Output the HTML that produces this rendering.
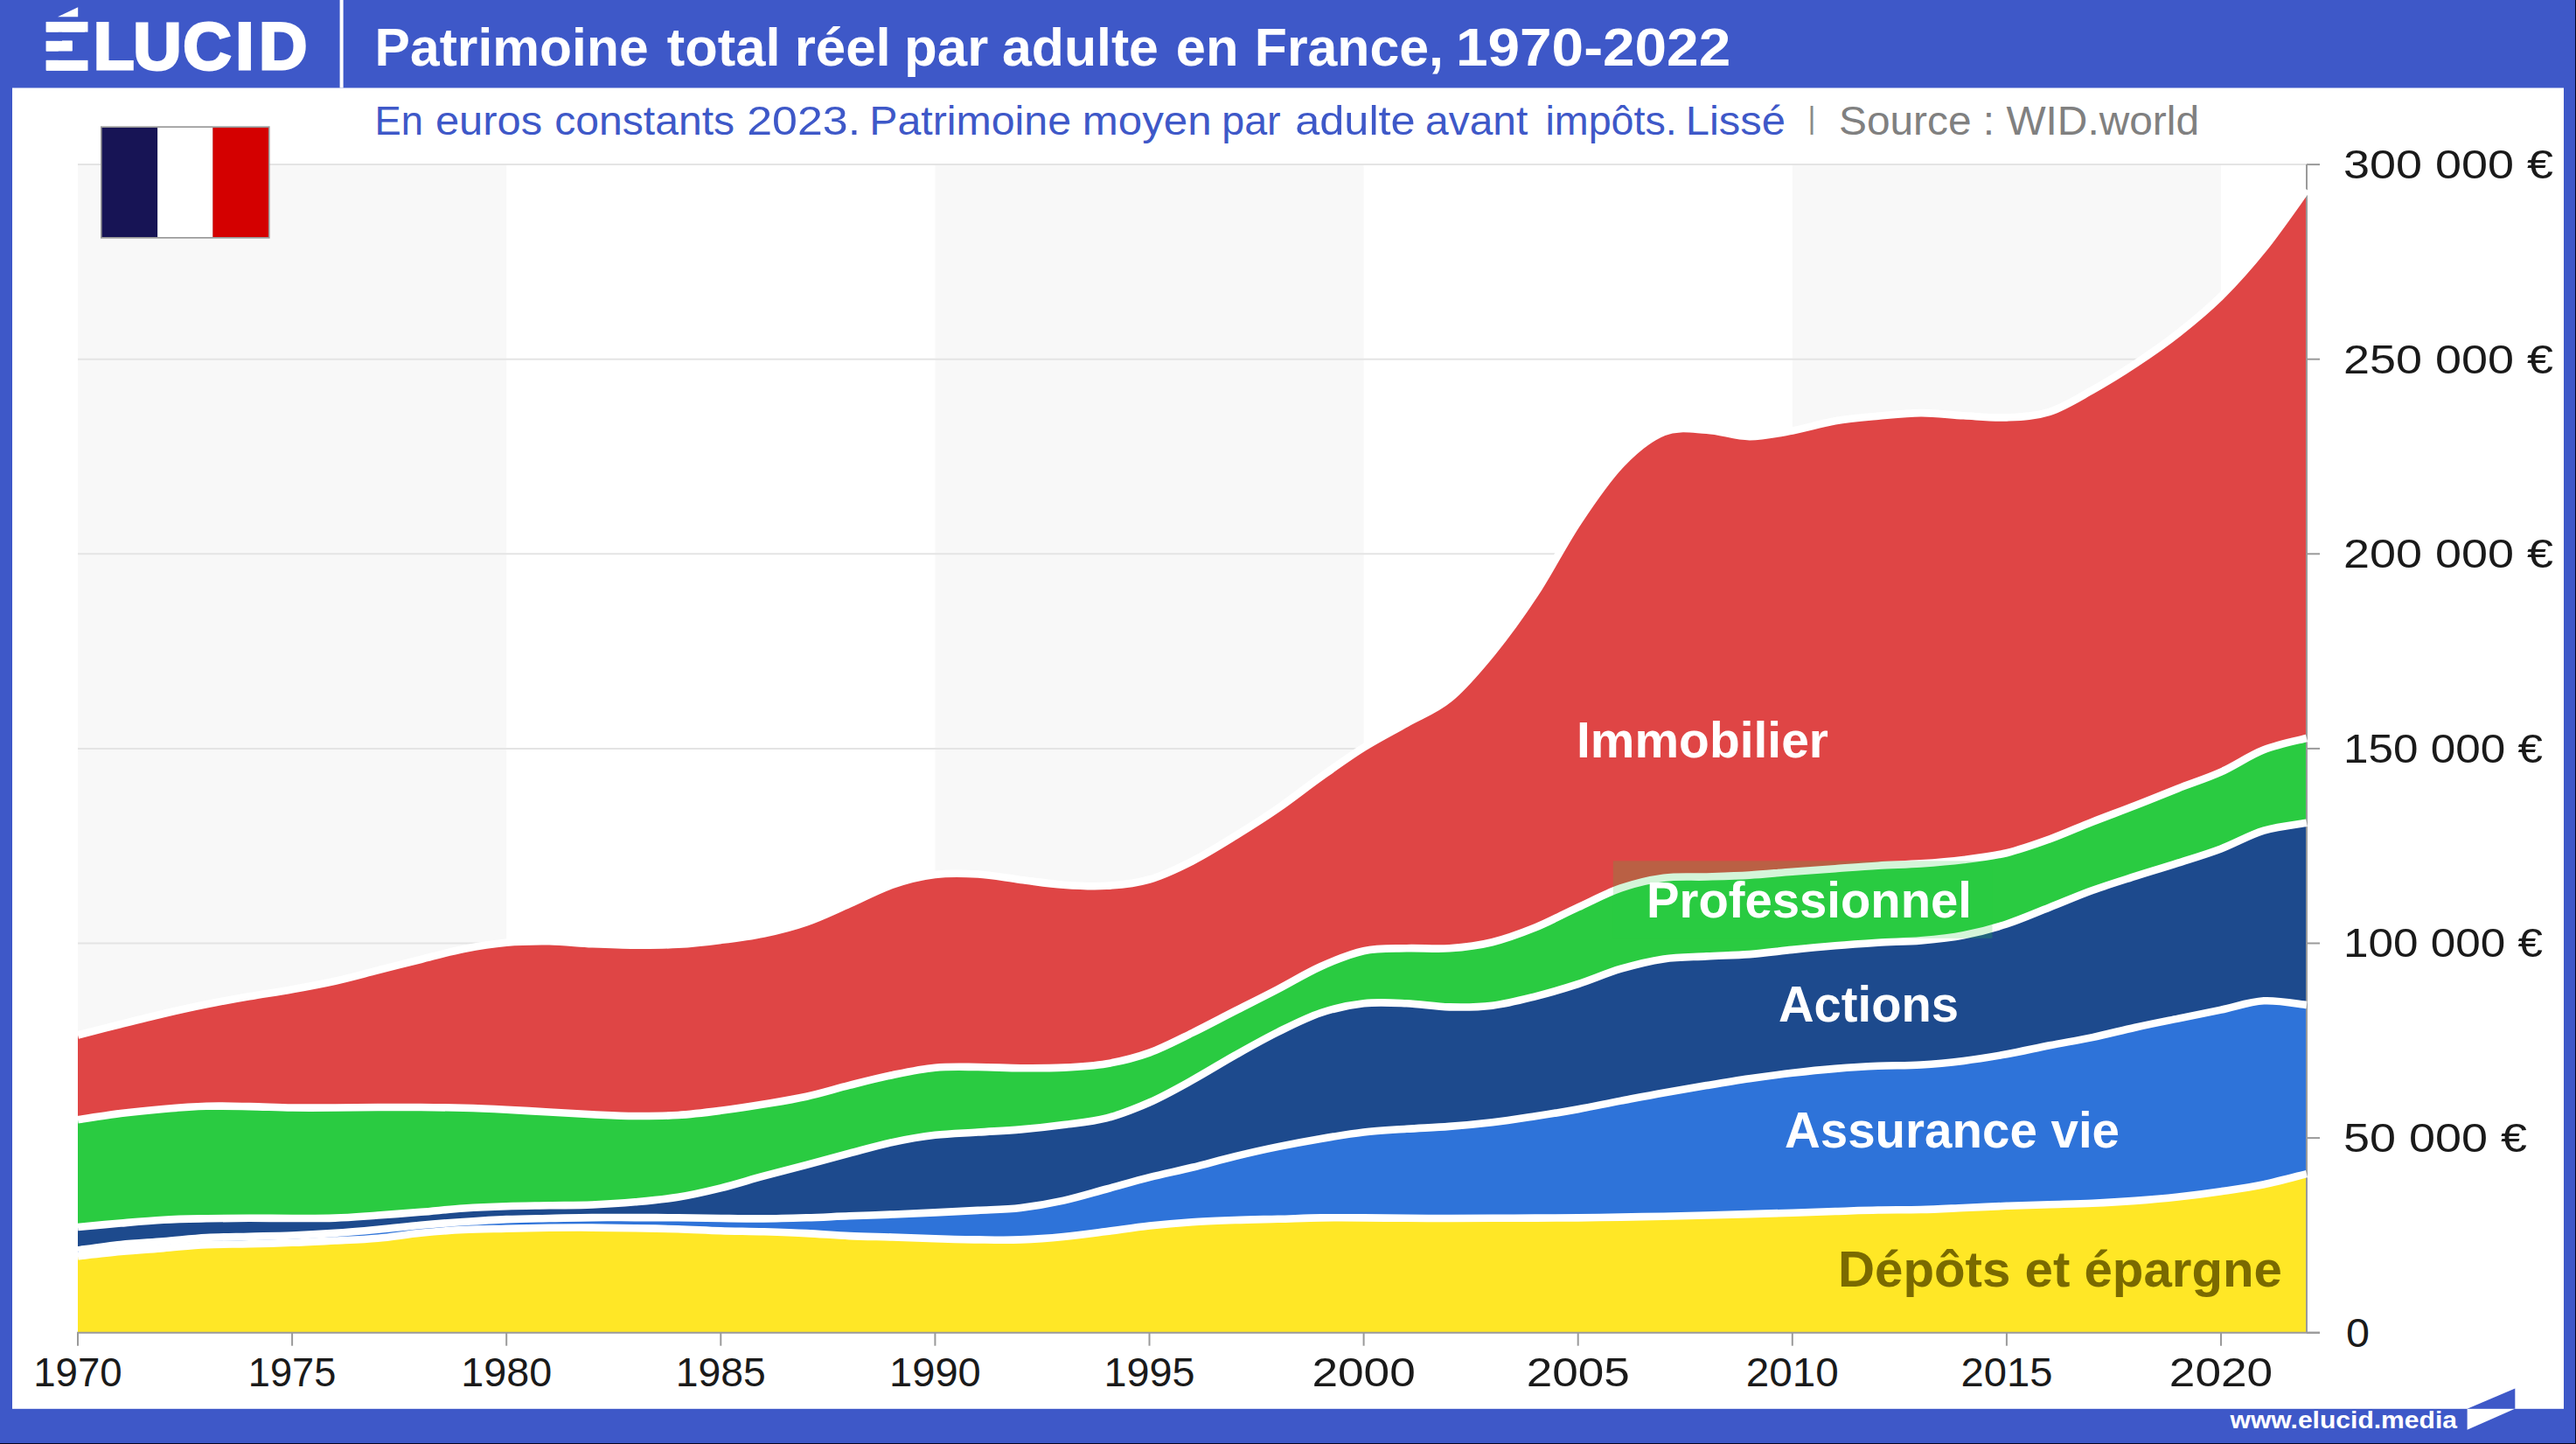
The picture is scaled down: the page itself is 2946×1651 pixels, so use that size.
<!DOCTYPE html>
<html lang="fr"><head><meta charset="utf-8"><title>Patrimoine total réel par adulte en France, 1970-2022</title>
<style>html,body{margin:0;padding:0;background:#3e58c8}svg{display:block}text{font-family:"Liberation Sans",sans-serif}</style>
</head><body>
<svg width="2946" height="1651" viewBox="0 0 2946 1651">
<rect x="0" y="0" width="2946" height="1651" fill="#3e58c8"/>
<rect x="14" y="100.5" width="2918" height="1510.3" fill="#fff"/>
<rect x="388.6" y="0" width="4" height="100.5" fill="#fff"/>
<rect x="89.0" y="188.1" width="490.2" height="1335.6" fill="#f8f8f8"/>
<rect x="1069.4" y="188.1" width="490.2" height="1335.6" fill="#f8f8f8"/>
<rect x="2049.8" y="188.1" width="490.2" height="1335.6" fill="#f8f8f8"/>
<line x1="89.0" x2="2638.0" y1="1301.1" y2="1301.1" stroke="#e4e4e4" stroke-width="2"/>
<line x1="89.0" x2="2638.0" y1="1078.5" y2="1078.5" stroke="#e4e4e4" stroke-width="2"/>
<line x1="89.0" x2="2638.0" y1="855.9" y2="855.9" stroke="#e4e4e4" stroke-width="2"/>
<line x1="89.0" x2="2638.0" y1="633.3" y2="633.3" stroke="#e4e4e4" stroke-width="2"/>
<line x1="89.0" x2="2638.0" y1="410.7" y2="410.7" stroke="#e4e4e4" stroke-width="2"/>
<line x1="89.0" x2="2638.0" y1="188.1" y2="188.1" stroke="#e4e4e4" stroke-width="2"/>
<path d="M89.0 1183.5C97.2 1181.4 121.7 1175.1 138.0 1171.0C154.4 1166.9 170.7 1162.8 187.0 1159.0C203.4 1155.2 219.7 1151.6 236.1 1148.3C252.4 1145.0 268.7 1142.1 285.1 1139.3C301.4 1136.5 317.8 1134.1 334.1 1131.2C350.4 1128.3 366.8 1125.3 383.1 1121.7C399.5 1118.1 415.8 1113.5 432.1 1109.4C448.5 1105.3 464.8 1101.1 481.2 1097.0C497.5 1092.9 513.8 1088.2 530.2 1085.0C546.5 1081.8 562.9 1079.2 579.2 1077.8C595.5 1076.3 611.9 1076.1 628.2 1076.3C644.6 1076.5 660.9 1078.5 677.2 1079.2C693.6 1079.9 709.9 1080.6 726.2 1080.7C742.6 1080.8 758.9 1080.8 775.3 1079.8C791.6 1078.8 807.9 1077.0 824.3 1074.9C840.6 1072.9 857.0 1070.9 873.3 1067.5C889.6 1064.1 906.0 1060.1 922.3 1054.4C938.7 1048.8 955.0 1040.7 971.3 1033.6C987.7 1026.5 1004.0 1017.3 1020.4 1011.7C1036.7 1006.1 1053.0 1002.0 1069.4 1000.0C1085.7 998.0 1102.1 998.5 1118.4 999.5C1134.7 1000.5 1151.1 1003.9 1167.4 1005.9C1183.8 1007.9 1200.1 1010.6 1216.4 1011.7C1232.8 1012.9 1249.1 1013.8 1265.5 1012.8C1281.8 1011.8 1298.1 1010.2 1314.5 1005.5C1330.8 1000.8 1347.2 992.9 1363.5 984.6C1379.8 976.3 1396.2 966.0 1412.5 955.9C1428.9 945.8 1445.2 935.6 1461.5 924.3C1477.9 913.0 1494.2 899.9 1510.6 888.3C1526.9 876.7 1543.2 864.9 1559.6 854.7C1575.9 844.5 1592.3 836.3 1608.6 827.0C1624.9 817.7 1641.3 812.3 1657.6 798.8C1674.0 785.3 1690.3 766.0 1706.6 746.0C1723.0 726.0 1739.3 703.4 1755.7 678.5C1772.0 653.6 1788.3 621.4 1804.7 596.8C1821.0 572.2 1837.4 548.1 1853.7 531.0C1870.0 513.9 1886.4 500.6 1902.7 494.0C1919.1 487.4 1935.4 490.8 1951.7 491.6C1968.1 492.5 1984.4 499.0 2000.7 499.1C2017.1 499.2 2033.4 495.5 2049.8 492.5C2066.1 489.5 2082.4 484.1 2098.8 481.3C2115.1 478.5 2131.5 477.2 2147.8 475.7C2164.1 474.2 2180.5 472.2 2196.8 472.1C2213.2 472.0 2229.5 474.4 2245.8 475.3C2262.2 476.2 2278.5 478.1 2294.9 477.4C2311.2 476.6 2327.5 476.0 2343.9 470.8C2360.2 465.6 2376.6 455.1 2392.9 446.0C2409.2 436.9 2425.6 426.8 2441.9 416.0C2458.3 405.2 2474.6 394.1 2490.9 381.2C2507.3 368.3 2523.6 355.0 2540.0 338.8C2556.3 322.6 2572.6 304.2 2589.0 283.9C2605.3 263.6 2629.8 228.0 2638.0 216.8L2638.0 1523.7 L89.0 1523.7 Z" fill="#df4545"/>
<path d="M89.0 1280.2C97.2 1279.0 121.7 1275.0 138.0 1273.0C154.4 1271.0 170.7 1269.4 187.0 1268.0C203.4 1266.6 219.7 1265.3 236.1 1264.8C252.4 1264.3 268.7 1264.8 285.1 1265.1C301.4 1265.4 317.8 1266.3 334.1 1266.5C350.4 1266.7 366.8 1266.6 383.1 1266.5C399.5 1266.4 415.8 1266.1 432.1 1266.0C448.5 1265.9 464.8 1265.9 481.2 1266.0C497.5 1266.1 513.8 1266.3 530.2 1266.8C546.5 1267.2 562.9 1267.9 579.2 1268.7C595.5 1269.5 611.9 1270.6 628.2 1271.5C644.6 1272.4 660.9 1273.5 677.2 1274.3C693.6 1275.0 709.9 1275.9 726.2 1276.0C742.6 1276.1 758.9 1276.0 775.3 1275.0C791.6 1274.0 807.9 1271.9 824.3 1269.8C840.6 1267.7 857.0 1265.2 873.3 1262.5C889.6 1259.8 906.0 1257.3 922.3 1253.7C938.7 1250.1 955.0 1245.0 971.3 1240.9C987.7 1236.8 1004.0 1232.6 1020.4 1229.2C1036.7 1225.8 1053.0 1222.2 1069.4 1220.7C1085.7 1219.2 1102.1 1219.9 1118.4 1220.0C1134.7 1220.1 1151.1 1221.1 1167.4 1221.2C1183.8 1221.3 1200.1 1221.4 1216.4 1220.6C1232.8 1219.8 1249.1 1219.0 1265.5 1216.2C1281.8 1213.4 1298.1 1209.5 1314.5 1203.6C1330.8 1197.7 1347.2 1189.0 1363.5 1181.0C1379.8 1173.0 1396.2 1164.2 1412.5 1155.9C1428.9 1147.6 1445.2 1139.5 1461.5 1131.0C1477.9 1122.5 1494.2 1112.3 1510.6 1105.0C1526.9 1097.7 1543.2 1090.7 1559.6 1087.2C1575.9 1083.7 1592.3 1084.7 1608.6 1084.2C1624.9 1083.7 1641.3 1085.5 1657.6 1084.3C1674.0 1083.1 1690.3 1081.2 1706.6 1077.2C1723.0 1073.2 1739.3 1067.1 1755.7 1060.5C1772.0 1053.9 1788.3 1044.9 1804.7 1037.4C1821.0 1029.9 1837.4 1021.0 1853.7 1015.4C1870.0 1009.8 1886.4 1005.9 1902.7 1003.7C1919.1 1001.6 1935.4 1003.0 1951.7 1002.5C1968.1 1002.0 1984.4 1001.6 2000.7 1000.6C2017.1 999.6 2033.4 997.9 2049.8 996.7C2066.1 995.5 2082.4 994.4 2098.8 993.2C2115.1 992.0 2131.5 990.7 2147.8 989.7C2164.1 988.7 2180.5 988.5 2196.8 987.4C2213.2 986.3 2229.5 985.0 2245.8 983.0C2262.2 981.0 2278.5 979.1 2294.9 975.2C2311.2 971.3 2327.5 965.4 2343.9 959.5C2360.2 953.6 2376.6 946.1 2392.9 939.7C2409.2 933.3 2425.6 927.4 2441.9 921.0C2458.3 914.6 2474.6 907.8 2490.9 901.4C2507.3 895.0 2523.6 890.0 2540.0 882.6C2556.3 875.2 2572.6 863.7 2589.0 857.3C2605.3 850.9 2629.8 846.2 2638.0 844.0L2638.0 1523.7 L89.0 1523.7 Z" fill="#2acb41"/>
<path d="M89.0 1403.0C97.2 1402.2 121.7 1399.9 138.0 1398.5C154.4 1397.1 170.7 1395.6 187.0 1394.7C203.4 1393.8 219.7 1393.6 236.1 1393.3C252.4 1393.0 268.7 1392.8 285.1 1392.7C301.4 1392.7 317.8 1393.0 334.1 1393.0C350.4 1393.0 366.8 1393.2 383.1 1392.6C399.5 1392.0 415.8 1390.6 432.1 1389.5C448.5 1388.4 464.8 1387.1 481.2 1385.8C497.5 1384.5 513.8 1382.6 530.2 1381.5C546.5 1380.4 562.9 1379.7 579.2 1379.2C595.5 1378.7 611.9 1378.6 628.2 1378.3C644.6 1378.0 660.9 1378.2 677.2 1377.5C693.6 1376.8 709.9 1375.8 726.2 1374.3C742.6 1372.8 758.9 1371.4 775.3 1368.8C791.6 1366.2 807.9 1362.4 824.3 1358.4C840.6 1354.4 857.0 1349.1 873.3 1344.7C889.6 1340.3 906.0 1336.2 922.3 1331.9C938.7 1327.6 955.0 1323.0 971.3 1318.7C987.7 1314.4 1004.0 1309.6 1020.4 1306.1C1036.7 1302.6 1053.0 1299.7 1069.4 1297.8C1085.7 1295.9 1102.1 1295.6 1118.4 1294.5C1134.7 1293.4 1151.1 1292.8 1167.4 1291.4C1183.8 1290.0 1200.1 1288.2 1216.4 1286.0C1232.8 1283.8 1249.1 1282.7 1265.5 1278.4C1281.8 1274.2 1298.1 1267.7 1314.5 1260.5C1330.8 1253.3 1347.2 1244.0 1363.5 1235.0C1379.8 1226.0 1396.2 1215.7 1412.5 1206.5C1428.9 1197.3 1445.2 1188.1 1461.5 1180.0C1477.9 1171.9 1494.2 1163.5 1510.6 1158.0C1526.9 1152.5 1543.2 1149.0 1559.6 1147.2C1575.9 1145.4 1592.3 1146.5 1608.6 1147.2C1624.9 1147.9 1641.3 1151.0 1657.6 1151.4C1674.0 1151.8 1690.3 1151.7 1706.6 1149.7C1723.0 1147.7 1739.3 1143.4 1755.7 1139.3C1772.0 1135.2 1788.3 1130.5 1804.7 1125.2C1821.0 1119.9 1837.4 1112.5 1853.7 1107.7C1870.0 1102.9 1886.4 1098.8 1902.7 1096.4C1919.1 1094.0 1935.4 1094.3 1951.7 1093.4C1968.1 1092.5 1984.4 1092.3 2000.7 1091.1C2017.1 1089.8 2033.4 1087.6 2049.8 1085.9C2066.1 1084.2 2082.4 1082.6 2098.8 1081.2C2115.1 1079.8 2131.5 1078.7 2147.8 1077.7C2164.1 1076.7 2180.5 1076.8 2196.8 1075.4C2213.2 1074.0 2229.5 1072.5 2245.8 1069.3C2262.2 1066.1 2278.5 1061.8 2294.9 1056.5C2311.2 1051.2 2327.5 1043.9 2343.9 1037.5C2360.2 1031.1 2376.6 1023.9 2392.9 1018.0C2409.2 1012.1 2425.6 1007.1 2441.9 1001.9C2458.3 996.7 2474.6 991.9 2490.9 986.6C2507.3 981.4 2523.6 976.6 2540.0 970.4C2556.3 964.2 2572.6 954.5 2589.0 949.6C2605.3 944.7 2629.8 942.2 2638.0 940.7L2638.0 1523.7 L89.0 1523.7 Z" fill="#1d4a8d"/>
<path d="M89.0 1429.4C97.2 1428.3 121.7 1424.7 138.0 1423.0C154.4 1421.3 170.7 1420.6 187.0 1419.3C203.4 1418.0 219.7 1415.9 236.1 1415.0C252.4 1414.1 268.7 1414.1 285.1 1413.7C301.4 1413.3 317.8 1413.1 334.1 1412.5C350.4 1411.9 366.8 1411.0 383.1 1409.9C399.5 1408.8 415.8 1407.3 432.1 1405.8C448.5 1404.3 464.8 1402.3 481.2 1400.8C497.5 1399.3 513.8 1398.1 530.2 1397.0C546.5 1395.9 562.9 1394.8 579.2 1394.1C595.5 1393.4 611.9 1393.3 628.2 1393.0C644.6 1392.7 660.9 1392.2 677.2 1392.1C693.6 1391.9 709.9 1392.1 726.2 1392.1C742.6 1392.1 758.9 1392.1 775.3 1392.3C791.6 1392.5 807.9 1392.8 824.3 1393.0C840.6 1393.2 857.0 1393.5 873.3 1393.4C889.6 1393.3 906.0 1392.8 922.3 1392.3C938.7 1391.8 955.0 1390.9 971.3 1390.3C987.7 1389.7 1004.0 1389.2 1020.4 1388.5C1036.7 1387.8 1053.0 1387.2 1069.4 1386.4C1085.7 1385.6 1102.1 1384.8 1118.4 1383.9C1134.7 1383.0 1151.1 1382.8 1167.4 1380.9C1183.8 1379.0 1200.1 1376.2 1216.4 1372.6C1232.8 1369.0 1249.1 1363.9 1265.5 1359.5C1281.8 1355.1 1298.1 1350.2 1314.5 1346.1C1330.8 1342.0 1347.2 1338.8 1363.5 1334.8C1379.8 1330.8 1396.2 1326.0 1412.5 1322.1C1428.9 1318.1 1445.2 1314.4 1461.5 1311.1C1477.9 1307.8 1494.2 1304.8 1510.6 1302.0C1526.9 1299.2 1543.2 1296.4 1559.6 1294.5C1575.9 1292.6 1592.3 1291.9 1608.6 1290.8C1624.9 1289.7 1641.3 1289.2 1657.6 1287.9C1674.0 1286.7 1690.3 1285.2 1706.6 1283.3C1723.0 1281.4 1739.3 1278.8 1755.7 1276.3C1772.0 1273.8 1788.3 1271.2 1804.7 1268.2C1821.0 1265.2 1837.4 1261.7 1853.7 1258.6C1870.0 1255.5 1886.4 1252.3 1902.7 1249.4C1919.1 1246.5 1935.4 1243.8 1951.7 1241.1C1968.1 1238.4 1984.4 1235.7 2000.7 1233.3C2017.1 1230.9 2033.4 1228.7 2049.8 1226.8C2066.1 1224.9 2082.4 1223.2 2098.8 1221.9C2115.1 1220.6 2131.5 1219.5 2147.8 1218.8C2164.1 1218.1 2180.5 1218.5 2196.8 1217.5C2213.2 1216.5 2229.5 1214.9 2245.8 1212.9C2262.2 1210.9 2278.5 1208.2 2294.9 1205.3C2311.2 1202.4 2327.5 1198.5 2343.9 1195.3C2360.2 1192.1 2376.6 1189.5 2392.9 1186.1C2409.2 1182.7 2425.6 1178.3 2441.9 1174.7C2458.3 1171.1 2474.6 1167.9 2490.9 1164.6C2507.3 1161.2 2523.6 1158.0 2540.0 1154.6C2556.3 1151.2 2572.6 1145.2 2589.0 1144.3C2605.3 1143.4 2629.8 1148.2 2638.0 1149.0L2638.0 1523.7 L89.0 1523.7 Z" fill="#2e73d9"/>
<path d="M89.0 1436.3C97.2 1435.4 121.7 1432.5 138.0 1431.0C154.4 1429.5 170.7 1428.4 187.0 1427.1C203.4 1425.8 219.7 1423.9 236.1 1423.1C252.4 1422.3 268.7 1422.7 285.1 1422.3C301.4 1421.9 317.8 1421.4 334.1 1420.8C350.4 1420.2 366.8 1419.3 383.1 1418.5C399.5 1417.7 415.8 1417.2 432.1 1415.7C448.5 1414.2 464.8 1411.4 481.2 1409.8C497.5 1408.2 513.8 1406.8 530.2 1406.0C546.5 1405.2 562.9 1405.1 579.2 1404.7C595.5 1404.3 611.9 1404.0 628.2 1403.8C644.6 1403.6 660.9 1403.5 677.2 1403.6C693.6 1403.7 709.9 1403.9 726.2 1404.2C742.6 1404.5 758.9 1404.8 775.3 1405.3C791.6 1405.8 807.9 1406.8 824.3 1407.3C840.6 1407.8 857.0 1407.8 873.3 1408.3C889.6 1408.8 906.0 1409.3 922.3 1410.1C938.7 1410.9 955.0 1412.4 971.3 1413.1C987.7 1413.8 1004.0 1414.0 1020.4 1414.5C1036.7 1415.0 1053.0 1415.7 1069.4 1416.2C1085.7 1416.7 1102.1 1417.2 1118.4 1417.4C1134.7 1417.6 1151.1 1418.0 1167.4 1417.4C1183.8 1416.8 1200.1 1415.6 1216.4 1414.0C1232.8 1412.4 1249.1 1410.1 1265.5 1408.0C1281.8 1405.9 1298.1 1403.3 1314.5 1401.5C1330.8 1399.7 1347.2 1398.3 1363.5 1397.2C1379.8 1396.1 1396.2 1395.6 1412.5 1395.0C1428.9 1394.4 1445.2 1394.2 1461.5 1393.8C1477.9 1393.4 1494.2 1392.6 1510.6 1392.4C1526.9 1392.2 1543.2 1392.3 1559.6 1392.4C1575.9 1392.5 1592.3 1392.7 1608.6 1392.8C1624.9 1392.9 1641.3 1393.0 1657.6 1393.0C1674.0 1393.0 1690.3 1392.9 1706.6 1392.8C1723.0 1392.7 1739.3 1392.7 1755.7 1392.6C1772.0 1392.5 1788.3 1392.6 1804.7 1392.4C1821.0 1392.2 1837.4 1391.9 1853.7 1391.6C1870.0 1391.3 1886.4 1391.0 1902.7 1390.7C1919.1 1390.4 1935.4 1389.9 1951.7 1389.5C1968.1 1389.1 1984.4 1388.6 2000.7 1388.1C2017.1 1387.6 2033.4 1387.2 2049.8 1386.7C2066.1 1386.2 2082.4 1385.5 2098.8 1385.0C2115.1 1384.5 2131.5 1383.8 2147.8 1383.5C2164.1 1383.2 2180.5 1383.4 2196.8 1383.0C2213.2 1382.6 2229.5 1381.7 2245.8 1381.0C2262.2 1380.3 2278.5 1379.4 2294.9 1378.8C2311.2 1378.2 2327.5 1377.7 2343.9 1377.2C2360.2 1376.7 2376.6 1376.4 2392.9 1375.7C2409.2 1375.0 2425.6 1374.1 2441.9 1372.9C2458.3 1371.7 2474.6 1370.3 2490.9 1368.5C2507.3 1366.7 2523.6 1364.6 2540.0 1362.2C2556.3 1359.8 2572.6 1357.6 2589.0 1354.2C2605.3 1350.8 2629.8 1344.1 2638.0 1342.1L2638.0 1523.7 L89.0 1523.7 Z" fill="#ffe726"/>
<line x1="2638.0" x2="2638.0" y1="188.1" y2="1523.7" stroke="#9a9a9a" stroke-width="2"/>
<path d="M89.0 1183.5C97.2 1181.4 121.7 1175.1 138.0 1171.0C154.4 1166.9 170.7 1162.8 187.0 1159.0C203.4 1155.2 219.7 1151.6 236.1 1148.3C252.4 1145.0 268.7 1142.1 285.1 1139.3C301.4 1136.5 317.8 1134.1 334.1 1131.2C350.4 1128.3 366.8 1125.3 383.1 1121.7C399.5 1118.1 415.8 1113.5 432.1 1109.4C448.5 1105.3 464.8 1101.1 481.2 1097.0C497.5 1092.9 513.8 1088.2 530.2 1085.0C546.5 1081.8 562.9 1079.2 579.2 1077.8C595.5 1076.3 611.9 1076.1 628.2 1076.3C644.6 1076.5 660.9 1078.5 677.2 1079.2C693.6 1079.9 709.9 1080.6 726.2 1080.7C742.6 1080.8 758.9 1080.8 775.3 1079.8C791.6 1078.8 807.9 1077.0 824.3 1074.9C840.6 1072.9 857.0 1070.9 873.3 1067.5C889.6 1064.1 906.0 1060.1 922.3 1054.4C938.7 1048.8 955.0 1040.7 971.3 1033.6C987.7 1026.5 1004.0 1017.3 1020.4 1011.7C1036.7 1006.1 1053.0 1002.0 1069.4 1000.0C1085.7 998.0 1102.1 998.5 1118.4 999.5C1134.7 1000.5 1151.1 1003.9 1167.4 1005.9C1183.8 1007.9 1200.1 1010.6 1216.4 1011.7C1232.8 1012.9 1249.1 1013.8 1265.5 1012.8C1281.8 1011.8 1298.1 1010.2 1314.5 1005.5C1330.8 1000.8 1347.2 992.9 1363.5 984.6C1379.8 976.3 1396.2 966.0 1412.5 955.9C1428.9 945.8 1445.2 935.6 1461.5 924.3C1477.9 913.0 1494.2 899.9 1510.6 888.3C1526.9 876.7 1543.2 864.9 1559.6 854.7C1575.9 844.5 1592.3 836.3 1608.6 827.0C1624.9 817.7 1641.3 812.3 1657.6 798.8C1674.0 785.3 1690.3 766.0 1706.6 746.0C1723.0 726.0 1739.3 703.4 1755.7 678.5C1772.0 653.6 1788.3 621.4 1804.7 596.8C1821.0 572.2 1837.4 548.1 1853.7 531.0C1870.0 513.9 1886.4 500.6 1902.7 494.0C1919.1 487.4 1935.4 490.8 1951.7 491.6C1968.1 492.5 1984.4 499.0 2000.7 499.1C2017.1 499.2 2033.4 495.5 2049.8 492.5C2066.1 489.5 2082.4 484.1 2098.8 481.3C2115.1 478.5 2131.5 477.2 2147.8 475.7C2164.1 474.2 2180.5 472.2 2196.8 472.1C2213.2 472.0 2229.5 474.4 2245.8 475.3C2262.2 476.2 2278.5 478.1 2294.9 477.4C2311.2 476.6 2327.5 476.0 2343.9 470.8C2360.2 465.6 2376.6 455.1 2392.9 446.0C2409.2 436.9 2425.6 426.8 2441.9 416.0C2458.3 405.2 2474.6 394.1 2490.9 381.2C2507.3 368.3 2523.6 355.0 2540.0 338.8C2556.3 322.6 2572.6 304.2 2589.0 283.9C2605.3 263.6 2629.8 228.0 2638.0 216.8" fill="none" stroke="#fff" stroke-width="8.6"/>
<path d="M89.0 1280.2C97.2 1279.0 121.7 1275.0 138.0 1273.0C154.4 1271.0 170.7 1269.4 187.0 1268.0C203.4 1266.6 219.7 1265.3 236.1 1264.8C252.4 1264.3 268.7 1264.8 285.1 1265.1C301.4 1265.4 317.8 1266.3 334.1 1266.5C350.4 1266.7 366.8 1266.6 383.1 1266.5C399.5 1266.4 415.8 1266.1 432.1 1266.0C448.5 1265.9 464.8 1265.9 481.2 1266.0C497.5 1266.1 513.8 1266.3 530.2 1266.8C546.5 1267.2 562.9 1267.9 579.2 1268.7C595.5 1269.5 611.9 1270.6 628.2 1271.5C644.6 1272.4 660.9 1273.5 677.2 1274.3C693.6 1275.0 709.9 1275.9 726.2 1276.0C742.6 1276.1 758.9 1276.0 775.3 1275.0C791.6 1274.0 807.9 1271.9 824.3 1269.8C840.6 1267.7 857.0 1265.2 873.3 1262.5C889.6 1259.8 906.0 1257.3 922.3 1253.7C938.7 1250.1 955.0 1245.0 971.3 1240.9C987.7 1236.8 1004.0 1232.6 1020.4 1229.2C1036.7 1225.8 1053.0 1222.2 1069.4 1220.7C1085.7 1219.2 1102.1 1219.9 1118.4 1220.0C1134.7 1220.1 1151.1 1221.1 1167.4 1221.2C1183.8 1221.3 1200.1 1221.4 1216.4 1220.6C1232.8 1219.8 1249.1 1219.0 1265.5 1216.2C1281.8 1213.4 1298.1 1209.5 1314.5 1203.6C1330.8 1197.7 1347.2 1189.0 1363.5 1181.0C1379.8 1173.0 1396.2 1164.2 1412.5 1155.9C1428.9 1147.6 1445.2 1139.5 1461.5 1131.0C1477.9 1122.5 1494.2 1112.3 1510.6 1105.0C1526.9 1097.7 1543.2 1090.7 1559.6 1087.2C1575.9 1083.7 1592.3 1084.7 1608.6 1084.2C1624.9 1083.7 1641.3 1085.5 1657.6 1084.3C1674.0 1083.1 1690.3 1081.2 1706.6 1077.2C1723.0 1073.2 1739.3 1067.1 1755.7 1060.5C1772.0 1053.9 1788.3 1044.9 1804.7 1037.4C1821.0 1029.9 1837.4 1021.0 1853.7 1015.4C1870.0 1009.8 1886.4 1005.9 1902.7 1003.7C1919.1 1001.6 1935.4 1003.0 1951.7 1002.5C1968.1 1002.0 1984.4 1001.6 2000.7 1000.6C2017.1 999.6 2033.4 997.9 2049.8 996.7C2066.1 995.5 2082.4 994.4 2098.8 993.2C2115.1 992.0 2131.5 990.7 2147.8 989.7C2164.1 988.7 2180.5 988.5 2196.8 987.4C2213.2 986.3 2229.5 985.0 2245.8 983.0C2262.2 981.0 2278.5 979.1 2294.9 975.2C2311.2 971.3 2327.5 965.4 2343.9 959.5C2360.2 953.6 2376.6 946.1 2392.9 939.7C2409.2 933.3 2425.6 927.4 2441.9 921.0C2458.3 914.6 2474.6 907.8 2490.9 901.4C2507.3 895.0 2523.6 890.0 2540.0 882.6C2556.3 875.2 2572.6 863.7 2589.0 857.3C2605.3 850.9 2629.8 846.2 2638.0 844.0" fill="none" stroke="#fff" stroke-width="8.6"/>
<path d="M89.0 1403.0C97.2 1402.2 121.7 1399.9 138.0 1398.5C154.4 1397.1 170.7 1395.6 187.0 1394.7C203.4 1393.8 219.7 1393.6 236.1 1393.3C252.4 1393.0 268.7 1392.8 285.1 1392.7C301.4 1392.7 317.8 1393.0 334.1 1393.0C350.4 1393.0 366.8 1393.2 383.1 1392.6C399.5 1392.0 415.8 1390.6 432.1 1389.5C448.5 1388.4 464.8 1387.1 481.2 1385.8C497.5 1384.5 513.8 1382.6 530.2 1381.5C546.5 1380.4 562.9 1379.7 579.2 1379.2C595.5 1378.7 611.9 1378.6 628.2 1378.3C644.6 1378.0 660.9 1378.2 677.2 1377.5C693.6 1376.8 709.9 1375.8 726.2 1374.3C742.6 1372.8 758.9 1371.4 775.3 1368.8C791.6 1366.2 807.9 1362.4 824.3 1358.4C840.6 1354.4 857.0 1349.1 873.3 1344.7C889.6 1340.3 906.0 1336.2 922.3 1331.9C938.7 1327.6 955.0 1323.0 971.3 1318.7C987.7 1314.4 1004.0 1309.6 1020.4 1306.1C1036.7 1302.6 1053.0 1299.7 1069.4 1297.8C1085.7 1295.9 1102.1 1295.6 1118.4 1294.5C1134.7 1293.4 1151.1 1292.8 1167.4 1291.4C1183.8 1290.0 1200.1 1288.2 1216.4 1286.0C1232.8 1283.8 1249.1 1282.7 1265.5 1278.4C1281.8 1274.2 1298.1 1267.7 1314.5 1260.5C1330.8 1253.3 1347.2 1244.0 1363.5 1235.0C1379.8 1226.0 1396.2 1215.7 1412.5 1206.5C1428.9 1197.3 1445.2 1188.1 1461.5 1180.0C1477.9 1171.9 1494.2 1163.5 1510.6 1158.0C1526.9 1152.5 1543.2 1149.0 1559.6 1147.2C1575.9 1145.4 1592.3 1146.5 1608.6 1147.2C1624.9 1147.9 1641.3 1151.0 1657.6 1151.4C1674.0 1151.8 1690.3 1151.7 1706.6 1149.7C1723.0 1147.7 1739.3 1143.4 1755.7 1139.3C1772.0 1135.2 1788.3 1130.5 1804.7 1125.2C1821.0 1119.9 1837.4 1112.5 1853.7 1107.7C1870.0 1102.9 1886.4 1098.8 1902.7 1096.4C1919.1 1094.0 1935.4 1094.3 1951.7 1093.4C1968.1 1092.5 1984.4 1092.3 2000.7 1091.1C2017.1 1089.8 2033.4 1087.6 2049.8 1085.9C2066.1 1084.2 2082.4 1082.6 2098.8 1081.2C2115.1 1079.8 2131.5 1078.7 2147.8 1077.7C2164.1 1076.7 2180.5 1076.8 2196.8 1075.4C2213.2 1074.0 2229.5 1072.5 2245.8 1069.3C2262.2 1066.1 2278.5 1061.8 2294.9 1056.5C2311.2 1051.2 2327.5 1043.9 2343.9 1037.5C2360.2 1031.1 2376.6 1023.9 2392.9 1018.0C2409.2 1012.1 2425.6 1007.1 2441.9 1001.9C2458.3 996.7 2474.6 991.9 2490.9 986.6C2507.3 981.4 2523.6 976.6 2540.0 970.4C2556.3 964.2 2572.6 954.5 2589.0 949.6C2605.3 944.7 2629.8 942.2 2638.0 940.7" fill="none" stroke="#fff" stroke-width="8.6"/>
<path d="M89.0 1429.4C97.2 1428.3 121.7 1424.7 138.0 1423.0C154.4 1421.3 170.7 1420.6 187.0 1419.3C203.4 1418.0 219.7 1415.9 236.1 1415.0C252.4 1414.1 268.7 1414.1 285.1 1413.7C301.4 1413.3 317.8 1413.1 334.1 1412.5C350.4 1411.9 366.8 1411.0 383.1 1409.9C399.5 1408.8 415.8 1407.3 432.1 1405.8C448.5 1404.3 464.8 1402.3 481.2 1400.8C497.5 1399.3 513.8 1398.1 530.2 1397.0C546.5 1395.9 562.9 1394.8 579.2 1394.1C595.5 1393.4 611.9 1393.3 628.2 1393.0C644.6 1392.7 660.9 1392.2 677.2 1392.1C693.6 1391.9 709.9 1392.1 726.2 1392.1C742.6 1392.1 758.9 1392.1 775.3 1392.3C791.6 1392.5 807.9 1392.8 824.3 1393.0C840.6 1393.2 857.0 1393.5 873.3 1393.4C889.6 1393.3 906.0 1392.8 922.3 1392.3C938.7 1391.8 955.0 1390.9 971.3 1390.3C987.7 1389.7 1004.0 1389.2 1020.4 1388.5C1036.7 1387.8 1053.0 1387.2 1069.4 1386.4C1085.7 1385.6 1102.1 1384.8 1118.4 1383.9C1134.7 1383.0 1151.1 1382.8 1167.4 1380.9C1183.8 1379.0 1200.1 1376.2 1216.4 1372.6C1232.8 1369.0 1249.1 1363.9 1265.5 1359.5C1281.8 1355.1 1298.1 1350.2 1314.5 1346.1C1330.8 1342.0 1347.2 1338.8 1363.5 1334.8C1379.8 1330.8 1396.2 1326.0 1412.5 1322.1C1428.9 1318.1 1445.2 1314.4 1461.5 1311.1C1477.9 1307.8 1494.2 1304.8 1510.6 1302.0C1526.9 1299.2 1543.2 1296.4 1559.6 1294.5C1575.9 1292.6 1592.3 1291.9 1608.6 1290.8C1624.9 1289.7 1641.3 1289.2 1657.6 1287.9C1674.0 1286.7 1690.3 1285.2 1706.6 1283.3C1723.0 1281.4 1739.3 1278.8 1755.7 1276.3C1772.0 1273.8 1788.3 1271.2 1804.7 1268.2C1821.0 1265.2 1837.4 1261.7 1853.7 1258.6C1870.0 1255.5 1886.4 1252.3 1902.7 1249.4C1919.1 1246.5 1935.4 1243.8 1951.7 1241.1C1968.1 1238.4 1984.4 1235.7 2000.7 1233.3C2017.1 1230.9 2033.4 1228.7 2049.8 1226.8C2066.1 1224.9 2082.4 1223.2 2098.8 1221.9C2115.1 1220.6 2131.5 1219.5 2147.8 1218.8C2164.1 1218.1 2180.5 1218.5 2196.8 1217.5C2213.2 1216.5 2229.5 1214.9 2245.8 1212.9C2262.2 1210.9 2278.5 1208.2 2294.9 1205.3C2311.2 1202.4 2327.5 1198.5 2343.9 1195.3C2360.2 1192.1 2376.6 1189.5 2392.9 1186.1C2409.2 1182.7 2425.6 1178.3 2441.9 1174.7C2458.3 1171.1 2474.6 1167.9 2490.9 1164.6C2507.3 1161.2 2523.6 1158.0 2540.0 1154.6C2556.3 1151.2 2572.6 1145.2 2589.0 1144.3C2605.3 1143.4 2629.8 1148.2 2638.0 1149.0" fill="none" stroke="#fff" stroke-width="8.6"/>
<path d="M89.0 1436.3C97.2 1435.4 121.7 1432.5 138.0 1431.0C154.4 1429.5 170.7 1428.4 187.0 1427.1C203.4 1425.8 219.7 1423.9 236.1 1423.1C252.4 1422.3 268.7 1422.7 285.1 1422.3C301.4 1421.9 317.8 1421.4 334.1 1420.8C350.4 1420.2 366.8 1419.3 383.1 1418.5C399.5 1417.7 415.8 1417.2 432.1 1415.7C448.5 1414.2 464.8 1411.4 481.2 1409.8C497.5 1408.2 513.8 1406.8 530.2 1406.0C546.5 1405.2 562.9 1405.1 579.2 1404.7C595.5 1404.3 611.9 1404.0 628.2 1403.8C644.6 1403.6 660.9 1403.5 677.2 1403.6C693.6 1403.7 709.9 1403.9 726.2 1404.2C742.6 1404.5 758.9 1404.8 775.3 1405.3C791.6 1405.8 807.9 1406.8 824.3 1407.3C840.6 1407.8 857.0 1407.8 873.3 1408.3C889.6 1408.8 906.0 1409.3 922.3 1410.1C938.7 1410.9 955.0 1412.4 971.3 1413.1C987.7 1413.8 1004.0 1414.0 1020.4 1414.5C1036.7 1415.0 1053.0 1415.7 1069.4 1416.2C1085.7 1416.7 1102.1 1417.2 1118.4 1417.4C1134.7 1417.6 1151.1 1418.0 1167.4 1417.4C1183.8 1416.8 1200.1 1415.6 1216.4 1414.0C1232.8 1412.4 1249.1 1410.1 1265.5 1408.0C1281.8 1405.9 1298.1 1403.3 1314.5 1401.5C1330.8 1399.7 1347.2 1398.3 1363.5 1397.2C1379.8 1396.1 1396.2 1395.6 1412.5 1395.0C1428.9 1394.4 1445.2 1394.2 1461.5 1393.8C1477.9 1393.4 1494.2 1392.6 1510.6 1392.4C1526.9 1392.2 1543.2 1392.3 1559.6 1392.4C1575.9 1392.5 1592.3 1392.7 1608.6 1392.8C1624.9 1392.9 1641.3 1393.0 1657.6 1393.0C1674.0 1393.0 1690.3 1392.9 1706.6 1392.8C1723.0 1392.7 1739.3 1392.7 1755.7 1392.6C1772.0 1392.5 1788.3 1392.6 1804.7 1392.4C1821.0 1392.2 1837.4 1391.9 1853.7 1391.6C1870.0 1391.3 1886.4 1391.0 1902.7 1390.7C1919.1 1390.4 1935.4 1389.9 1951.7 1389.5C1968.1 1389.1 1984.4 1388.6 2000.7 1388.1C2017.1 1387.6 2033.4 1387.2 2049.8 1386.7C2066.1 1386.2 2082.4 1385.5 2098.8 1385.0C2115.1 1384.5 2131.5 1383.8 2147.8 1383.5C2164.1 1383.2 2180.5 1383.4 2196.8 1383.0C2213.2 1382.6 2229.5 1381.7 2245.8 1381.0C2262.2 1380.3 2278.5 1379.4 2294.9 1378.8C2311.2 1378.2 2327.5 1377.7 2343.9 1377.2C2360.2 1376.7 2376.6 1376.4 2392.9 1375.7C2409.2 1375.0 2425.6 1374.1 2441.9 1372.9C2458.3 1371.7 2474.6 1370.3 2490.9 1368.5C2507.3 1366.7 2523.6 1364.6 2540.0 1362.2C2556.3 1359.8 2572.6 1357.6 2589.0 1354.2C2605.3 1350.8 2629.8 1344.1 2638.0 1342.1" fill="none" stroke="#fff" stroke-width="8.6"/>
<line x1="88.0" x2="2653.0" y1="1523.7" y2="1523.7" stroke="#9a9a9a" stroke-width="2"/>
<line x1="2638.0" x2="2653.0" y1="1523.7" y2="1523.7" stroke="#9a9a9a" stroke-width="2"/>
<line x1="2638.0" x2="2653.0" y1="1301.1" y2="1301.1" stroke="#9a9a9a" stroke-width="2"/>
<line x1="2638.0" x2="2653.0" y1="1078.5" y2="1078.5" stroke="#9a9a9a" stroke-width="2"/>
<line x1="2638.0" x2="2653.0" y1="855.9" y2="855.9" stroke="#9a9a9a" stroke-width="2"/>
<line x1="2638.0" x2="2653.0" y1="633.3" y2="633.3" stroke="#9a9a9a" stroke-width="2"/>
<line x1="2638.0" x2="2653.0" y1="410.7" y2="410.7" stroke="#9a9a9a" stroke-width="2"/>
<line x1="2638.0" x2="2653.0" y1="188.1" y2="188.1" stroke="#9a9a9a" stroke-width="2"/>
<line x1="89.0" x2="89.0" y1="1523.7" y2="1538.7" stroke="#9a9a9a" stroke-width="2"/>
<line x1="334.1" x2="334.1" y1="1523.7" y2="1538.7" stroke="#9a9a9a" stroke-width="2"/>
<line x1="579.2" x2="579.2" y1="1523.7" y2="1538.7" stroke="#9a9a9a" stroke-width="2"/>
<line x1="824.3" x2="824.3" y1="1523.7" y2="1538.7" stroke="#9a9a9a" stroke-width="2"/>
<line x1="1069.4" x2="1069.4" y1="1523.7" y2="1538.7" stroke="#9a9a9a" stroke-width="2"/>
<line x1="1314.5" x2="1314.5" y1="1523.7" y2="1538.7" stroke="#9a9a9a" stroke-width="2"/>
<line x1="1559.6" x2="1559.6" y1="1523.7" y2="1538.7" stroke="#9a9a9a" stroke-width="2"/>
<line x1="1804.7" x2="1804.7" y1="1523.7" y2="1538.7" stroke="#9a9a9a" stroke-width="2"/>
<line x1="2049.8" x2="2049.8" y1="1523.7" y2="1538.7" stroke="#9a9a9a" stroke-width="2"/>
<line x1="2294.9" x2="2294.9" y1="1523.7" y2="1538.7" stroke="#9a9a9a" stroke-width="2"/>
<line x1="2540.0" x2="2540.0" y1="1523.7" y2="1538.7" stroke="#9a9a9a" stroke-width="2"/>
<text x="89.0" y="1585.3" font-size="46.0" fill="#1a1a1a" text-anchor="middle" textLength="101.5" lengthAdjust="spacingAndGlyphs">1970</text>
<text x="334.1" y="1585.3" font-size="46.0" fill="#1a1a1a" text-anchor="middle" textLength="100.6" lengthAdjust="spacingAndGlyphs">1975</text>
<text x="579.2" y="1585.3" font-size="46.0" fill="#1a1a1a" text-anchor="middle" textLength="104.0" lengthAdjust="spacingAndGlyphs">1980</text>
<text x="824.3" y="1585.3" font-size="46.0" fill="#1a1a1a" text-anchor="middle" textLength="103.0" lengthAdjust="spacingAndGlyphs">1985</text>
<text x="1069.4" y="1585.3" font-size="46.0" fill="#1a1a1a" text-anchor="middle" textLength="104.7" lengthAdjust="spacingAndGlyphs">1990</text>
<text x="1314.5" y="1585.3" font-size="46.0" fill="#1a1a1a" text-anchor="middle" textLength="104.0" lengthAdjust="spacingAndGlyphs">1995</text>
<text x="1559.6" y="1585.3" font-size="46.0" fill="#1a1a1a" text-anchor="middle" textLength="118.3" lengthAdjust="spacingAndGlyphs">2000</text>
<text x="1804.7" y="1585.3" font-size="46.0" fill="#1a1a1a" text-anchor="middle" textLength="118.0" lengthAdjust="spacingAndGlyphs">2005</text>
<text x="2049.8" y="1585.3" font-size="46.0" fill="#1a1a1a" text-anchor="middle" textLength="106.0" lengthAdjust="spacingAndGlyphs">2010</text>
<text x="2294.9" y="1585.3" font-size="46.0" fill="#1a1a1a" text-anchor="middle" textLength="105.0" lengthAdjust="spacingAndGlyphs">2015</text>
<text x="2540.0" y="1585.3" font-size="46.0" fill="#1a1a1a" text-anchor="middle" textLength="118.3" lengthAdjust="spacingAndGlyphs">2020</text>
<text x="2683.0" y="1539.5" font-size="46.0" fill="#1a1a1a" textLength="27.0" lengthAdjust="spacingAndGlyphs">0</text>
<text x="2680.0" y="1316.9" font-size="46.0" fill="#1a1a1a" textLength="210.0" lengthAdjust="spacingAndGlyphs">50 000 €</text>
<text x="2680.0" y="1094.3" font-size="46.0" fill="#1a1a1a" textLength="228.0" lengthAdjust="spacingAndGlyphs">100 000 €</text>
<text x="2680.0" y="871.7" font-size="46.0" fill="#1a1a1a" textLength="228.0" lengthAdjust="spacingAndGlyphs">150 000 €</text>
<text x="2680.0" y="649.1" font-size="46.0" fill="#1a1a1a" textLength="240.0" lengthAdjust="spacingAndGlyphs">200 000 €</text>
<text x="2680.0" y="426.5" font-size="46.0" fill="#1a1a1a" textLength="240.0" lengthAdjust="spacingAndGlyphs">250 000 €</text>
<text x="2680.0" y="203.9" font-size="46.0" fill="#1a1a1a" textLength="240.0" lengthAdjust="spacingAndGlyphs">300 000 €</text>
<rect x="1844.8" y="984.3" width="433.7" height="88.5" fill="#2acb41" fill-opacity="0.2"/>
<text x="1803.0" y="866.2" font-size="58.0" fill="#fff" font-weight="bold" textLength="288.0" lengthAdjust="spacingAndGlyphs">Immobilier</text>
<text x="1883.0" y="1049.0" font-size="58.0" fill="#fff" font-weight="bold" textLength="372.0" lengthAdjust="spacingAndGlyphs">Professionnel</text>
<text x="2034.0" y="1168.0" font-size="58.0" fill="#fff" font-weight="bold" textLength="206.0" lengthAdjust="spacingAndGlyphs">Actions</text>
<text x="2041.0" y="1312.0" font-size="58.0" fill="#fff" font-weight="bold" textLength="383.0" lengthAdjust="spacingAndGlyphs">Assurance vie</text>
<text x="2102.0" y="1470.5" font-size="58.0" fill="#7a6a00" font-weight="bold" textLength="508.0" lengthAdjust="spacingAndGlyphs">Dépôts et épargne</text>
<text y="75.0" font-size="60.2" fill="#fff" font-weight="bold"><tspan x="428.6" textLength="313.0" lengthAdjust="spacingAndGlyphs">Patrimoine</tspan> <tspan x="762.8" textLength="129.7" lengthAdjust="spacingAndGlyphs">total</tspan> <tspan x="908.7" textLength="110.1" lengthAdjust="spacingAndGlyphs">réel</tspan> <tspan x="1034.1" textLength="96.1" lengthAdjust="spacingAndGlyphs">par</tspan> <tspan x="1146.0" textLength="178.9" lengthAdjust="spacingAndGlyphs">adulte</tspan> <tspan x="1344.8" textLength="71.7" lengthAdjust="spacingAndGlyphs">en</tspan> <tspan x="1434.8" textLength="216.2" lengthAdjust="spacingAndGlyphs">France,</tspan> <tspan x="1665.0" textLength="314.2" lengthAdjust="spacingAndGlyphs">1970-2022</tspan></text>
<text y="154.3" font-size="46.0" fill="#3e58c8"><tspan x="428.6" textLength="55.5" lengthAdjust="spacingAndGlyphs">En</tspan> <tspan x="497.9" textLength="122.3" lengthAdjust="spacingAndGlyphs">euros</tspan> <tspan x="634.2" textLength="205.9" lengthAdjust="spacingAndGlyphs">constants</tspan> <tspan x="854.2" textLength="129.9" lengthAdjust="spacingAndGlyphs">2023.</tspan> <tspan x="994.2" textLength="230.8" lengthAdjust="spacingAndGlyphs">Patrimoine</tspan> <tspan x="1237.8" textLength="147.8" lengthAdjust="spacingAndGlyphs">moyen</tspan> <tspan x="1397.3" textLength="67.3" lengthAdjust="spacingAndGlyphs">par</tspan> <tspan x="1481.2" textLength="137.5" lengthAdjust="spacingAndGlyphs">adulte</tspan> <tspan x="1630.1" textLength="117.1" lengthAdjust="spacingAndGlyphs">avant</tspan> <tspan x="1767.4" textLength="150.4" lengthAdjust="spacingAndGlyphs">impôts.</tspan> <tspan x="1927.8" textLength="114.2" lengthAdjust="spacingAndGlyphs">Lissé</tspan></text>
<text x="2067.5" y="146.5" font-size="34.7" fill="#8a8a8a">|</text>
<text x="2103.0" y="154.3" font-size="46.0" fill="#808080" textLength="412.0" lengthAdjust="spacingAndGlyphs">Source : WID.world</text>
<text x="49.1 106.8 152.2 209.3 269.3 296" y="79.3" font-size="76.7" font-weight="bold" fill="#fff" stroke="#fff" stroke-width="3">ÉLUCID</text>
<rect x="49" y="36.6" width="22" height="10.3" fill="#3e58c8"/>
<rect x="49" y="58.5" width="22" height="10.4" fill="#3e58c8"/>
<rect x="82.6" y="42" width="22" height="22" fill="#3e58c8"/>
<rect x="58" y="2" width="42" height="22.9" fill="#3e58c8"/>
<rect x="53" y="24.9" width="47.5" height="11.7" fill="#fff"/>
<rect x="53" y="46.9" width="29.6" height="11.6" fill="#fff"/>
<rect x="53" y="68.9" width="47.5" height="11.9" fill="#fff"/>
<polygon points="66,19.3 89.2,8.3 89.2,19.3" fill="#fff"/>
<rect x="115" y="144.3" width="193.6" height="128.4" fill="#9a9a9a"/>
<rect x="116.6" y="146" width="63.6" height="125" fill="#171455"/>
<rect x="180.2" y="146" width="63.2" height="125" fill="#fff"/>
<rect x="243.4" y="146" width="63.6" height="125" fill="#d40000"/>
<text x="2550.5" y="1633.0" font-size="27.5" fill="#fff" font-weight="bold" textLength="259.5" lengthAdjust="spacingAndGlyphs">www.elucid.media</text>
<polygon points="2821.6,1610.8 2876.3,1587.4 2876.3,1610.8" fill="#3e58c8"/>
<polygon points="2821.6,1611 2875.5,1611 2821.6,1634.7" fill="#fff"/>
<rect x="0" y="1650" width="2946" height="1" fill="#05051e"/>
<rect x="2945" y="0" width="1" height="1651" fill="#05051e"/>
</svg></body></html>
